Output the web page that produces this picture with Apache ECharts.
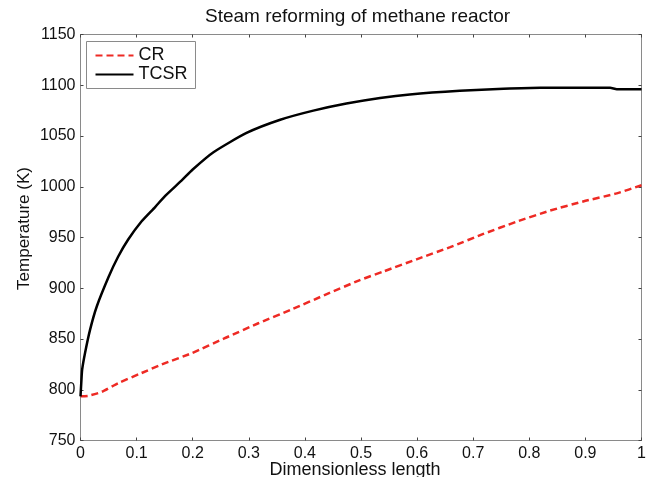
<!DOCTYPE html>
<html>
<head>
<meta charset="utf-8">
<script src="https://cdn.jsdelivr.net/npm/echarts@6/dist/echarts.min.js"></script>
<style>html,body{margin:0;padding:0;background:#fff}#c{width:653px;height:477px}</style>
</head>
<body>
<div id="c"></div>
<script>
const chartTitle = 'Steam reforming of methane reactor';
const xName = 'Dimensionless length';
const yName = 'Temperature (K)';
const seriesNames = ['CR', 'TCSR'];

const lengthCR = [0, 0.014, 0.038, 0.067, 0.109, 0.145, 0.198, 0.258, 0.317, 0.376, 0.436, 0.498, 0.54, 0.599, 0.659, 0.718, 0.777, 0.837, 0.896, 0.956, 1.0];
const tempCR = [793.5, 794, 798, 806.5, 816.5, 825, 836, 851, 865.5, 879, 893.5, 908, 916.5, 928.5, 940.5, 953.5, 965.5, 976.5, 985.5, 993.5, 1001.5];

const lengthTCSR = [0, 0.0015, 0.003, 0.008, 0.017, 0.029, 0.05, 0.067, 0.085, 0.109, 0.133, 0.151, 0.18, 0.2, 0.237, 0.296, 0.356, 0.415, 0.474, 0.534, 0.587, 0.676, 0.754, 0.82, 0.944, 0.956, 1.0];
const tempTCSR = [793.5, 808, 820, 836, 859, 882, 911, 931, 948, 966, 980, 991, 1006, 1017, 1034, 1053, 1066, 1075, 1082, 1087.5, 1091, 1094.5, 1096.5, 1097.5, 1097.5, 1096, 1096];

const xMin = 0, xMax = 1, xStep = 0.1;
const yMin = 750, yMax = 1150, yStep = 50;

const FONT = 'Liberation Sans, Arial, sans-serif';
const axisGray = '#8a8a8a';

function pairs(xs, ys) { return xs.map((x, i) => [x, ys[i]]); }

const chart = echarts.init(document.getElementById('c'), null, {renderer: 'canvas'});
const tickStyle = {show: true, inside: true, length: 3, lineStyle: {color: '#444', width: 1}};
chart.setOption({
  animation: false,
  backgroundColor: '#fff',
  grid: {left: 80.5, right: 11.5, top: 34.5, bottom: 36.5, containLabel: false, outerBoundsMode: 'none'},
  graphic: [{
    type: 'text', left: 205, top: 7,
    style: {text: chartTitle, font: '19px ' + FONT, fill: '#111'}
  }],
  legend: {
    orient: 'vertical', left: 86.5, top: 41.5,
    padding: [5, 8, 5, 8], itemGap: 1, itemWidth: 38, itemHeight: 14,
    borderColor: axisGray, borderWidth: 1, borderRadius: 0,
    backgroundColor: '#fff',
    itemStyle: {opacity: 0},
    textStyle: {fontSize: 18, fontFamily: FONT, color: '#111'},
    data: seriesNames
  },
  xAxis: [{
    type: 'value', min: xMin, max: xMax, interval: xStep, position: 'bottom',
    name: xName, nameLocation: 'middle', nameGap: 21, nameMoveOverlap: false,
    nameTextStyle: {fontSize: 18, fontFamily: FONT, color: '#111', padding: [0, 12, 0, 0]},
    axisLine: {show: true, onZero: false, lineStyle: {color: axisGray, width: 1}},
    axisTick: tickStyle,
    axisLabel: {fontSize: 16, fontFamily: FONT, color: '#111', margin: 5},
    splitLine: {show: false}
  }, {
    type: 'value', min: xMin, max: xMax, interval: xStep, position: 'top',
    axisLine: {show: true, onZero: false, lineStyle: {color: axisGray, width: 1}},
    axisTick: tickStyle, axisLabel: {show: false}, splitLine: {show: false}
  }],
  yAxis: [{
    type: 'value', min: yMin, max: yMax, interval: yStep, position: 'left',
    name: yName, nameLocation: 'middle', nameGap: 48, nameRotate: 90, nameMoveOverlap: false,
    nameTextStyle: {fontSize: 17, fontFamily: FONT, color: '#111', padding: [0, 0, 0, 18]},
    axisLine: {show: true, onZero: false, lineStyle: {color: axisGray, width: 1}},
    axisTick: tickStyle,
    axisLabel: {fontSize: 16, fontFamily: FONT, color: '#111', margin: 5, formatter: v => String(v)},
    splitLine: {show: false}
  }, {
    type: 'value', min: yMin, max: yMax, interval: yStep, position: 'right',
    axisLine: {show: true, onZero: false, lineStyle: {color: axisGray, width: 1}},
    axisTick: tickStyle, axisLabel: {show: false}, splitLine: {show: false}
  }],
  series: [{
    name: seriesNames[0], type: 'line', xAxisIndex: 0, yAxisIndex: 0,
    data: pairs(lengthCR, tempCR), symbol: 'none', smooth: 0.2,
    lineStyle: {color: '#ee2a24', width: 2.5, type: [7, 4]},
    itemStyle: {color: '#ee2a24'}
  }, {
    name: seriesNames[1], type: 'line', xAxisIndex: 0, yAxisIndex: 0,
    data: pairs(lengthTCSR, tempTCSR), symbol: 'none', smooth: 0.2,
    lineStyle: {color: '#000', width: 2.5},
    itemStyle: {color: '#000'}
  }]
});
</script>
</body>
</html>
